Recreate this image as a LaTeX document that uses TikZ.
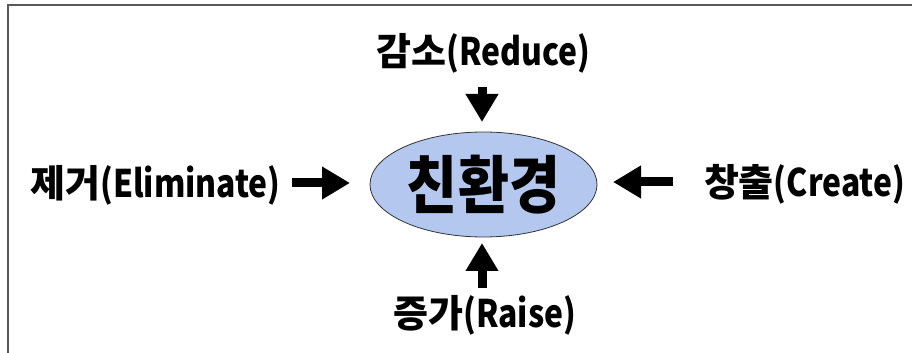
\documentclass[tikz,border=0pt]{standalone}
\usepackage{fontspec}
\usepackage{graphicx}
\newfontfamily\kr{Noto Sans CJK KR}
\usetikzlibrary{arrows.meta,shapes.geometric}
\definecolor{ellfill}{RGB}{180,199,238}
\newcommand{\latn}[1]{\scalebox{0.84}[1]{#1}}
\tikzset{
  lbl/.style={font=\kr\bfseries\fontsize{38}{42}\selectfont, inner sep=0pt, text=black},
  blockarrow/.style={line width=9pt, draw=black, -{Triangle[length=28pt,width=31pt]}, shorten >=0pt},
}
\begin{document}
\begin{tikzpicture}[x=1pt,y=1pt]
\useasboundingbox (0,0) rectangle (912,353);
\fill[white] (0,0) rectangle (912,353);
% frame (top and left edges)
\draw[line width=2pt, color=gray!70!black] (7.5,0) -- (7.5,347.5) -- (912,347.5);
% centre ellipse
\node[draw=black!80, line width=0.8pt, fill=ellfill, ellipse, minimum width=227pt, minimum height=105pt, inner sep=0pt] (c) at (483.5,168.5) {};
\node[font=\kr\bfseries\fontsize{63}{66}\selectfont, inner sep=0pt, xscale=0.88] (ct) at (c.center) {친환경};
% labels
\node[lbl] (r) at (483.5,300) {감소\latn{(Reduce)}};
\node[lbl] (e) at (155.5,167.5) {제거\latn{(Eliminate)}};
\node[lbl] (k) at (804.5,168.5) {창출\latn{(Create)}};
\node[lbl] (s) at (485,38) {증가\latn{(Raise)}};
% arrow end points
\coordinate (rA) at (482,266);
\coordinate (rB) at (482,231);
\coordinate (eA) at (292,170);
\coordinate (eB) at (350,170);
\coordinate (kA) at (673,171);
\coordinate (kB) at (613,171);
\coordinate (sA) at (482,65);
\coordinate (sB) at (482,110);
\draw[blockarrow] (rA) -- (rB);
\draw[blockarrow] (eA) -- (eB);
\draw[blockarrow] (kA) -- (kB);
\draw[blockarrow] (sA) -- (sB);
\end{tikzpicture}
\end{document}
